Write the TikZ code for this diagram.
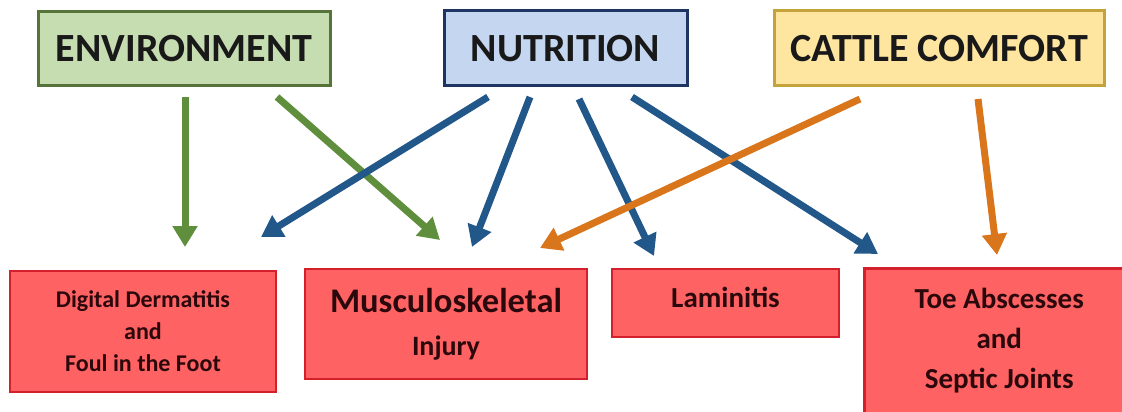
\documentclass[tikz,border=0pt]{standalone}
\usepackage{fontspec}
\setmainfont{Carlito}
\usetikzlibrary{arrows.meta}
\definecolor{envfill}{HTML}{C6DDB2}
\definecolor{envline}{HTML}{56733A}
\definecolor{nutfill}{HTML}{C5D7F0}
\definecolor{nutline}{HTML}{1F3561}
\definecolor{ccfill}{HTML}{FFE6A0}
\definecolor{ccline}{HTML}{C4A43A}
\definecolor{redfill}{HTML}{FF6262}
\definecolor{redline}{HTML}{D3202C}
\definecolor{redtext}{HTML}{2A080C}
\definecolor{garrow}{HTML}{5F8E3C}
\definecolor{barrow}{HTML}{22578A}
\definecolor{oarrow}{HTML}{D9761C}
\tikzset{
  topbox/.style={draw, line width=3pt, inner sep=0pt, align=center,
    font=\fontsize{40}{44}\selectfont\bfseries, text=black!90},
  disbox/.style={draw=redline, fill=redfill, line width=2.5pt, inner sep=0pt,
    align=center, text=redtext},
  conn/.style={line width=7pt, -{Triangle[length=21pt,width=24pt]}},
}
\begin{document}
\begin{tikzpicture}[x=1pt,y=-1pt]
\clip (0,0) rectangle (1122,412);
\useasboundingbox (0,0) rectangle (1122,412);
\fill[white] (0,0) rectangle (1122,412);

% top boxes
\node[topbox, draw=envline, fill=envfill, minimum width=292pt, minimum height=74pt] (env) at (184,49) {ENVIRONMENT};
\node[topbox, draw=nutline, fill=nutfill, minimum width=243pt, minimum height=75pt] (nut) at (565.5,48.5) {NUTRITION};
\node[topbox, draw=ccline, fill=ccfill, minimum width=330pt, minimum height=75pt] (cc) at (939,48.5) {CATTLE COMFORT};

% bottom boxes
\node[disbox, minimum width=266pt, minimum height=121pt,
  font=\fontsize{24}{32}\selectfont\bfseries] (dd) at (143,331.5)
  {Digital Dermatitis\\and\\Foul in the Foot};
\node[disbox, minimum width=282pt, minimum height=110pt,
  font=\fontsize{28}{30}\selectfont\bfseries] (mus) at (446,324)
  {{\fontsize{34.5}{36}\selectfont Musculoskeletal}\\[13pt]Injury};
\node[disbox, minimum width=227pt, minimum height=68pt, text depth=12pt,
  font=\fontsize{29}{30}\selectfont\bfseries] (lam) at (725.5,303) {Laminitis};
\node[disbox, minimum width=270pt, inner ysep=20pt, text depth=60pt, anchor=north west,
  font=\fontsize{29}{40}\selectfont\bfseries] (toe) at (863,267)
  {Toe Abscesses\\and\\Septic Joints};

% arrow end points
\coordinate (g1s) at (185,97);  \coordinate (g1e) at (185,247);
\coordinate (g2s) at (277,97);  \coordinate (g2e) at (440,240);
\coordinate (b1s) at (488,97);  \coordinate (b1e) at (261,237);
\coordinate (b2s) at (530,97);  \coordinate (b2e) at (472,247);
\coordinate (b3s) at (579,99);  \coordinate (b3e) at (654,256);
\coordinate (b4s) at (632,97);  \coordinate (b4e) at (878,254);
\coordinate (o1s) at (860,99);  \coordinate (o1e) at (540,248);
\coordinate (o2s) at (978,99);  \coordinate (o2e) at (997,255);

\draw[conn, garrow] (g1s) -- (g1e);
\draw[conn, garrow] (g2s) -- (g2e);
\draw[conn, barrow] (b1s) -- (b1e);
\draw[conn, barrow] (b2s) -- (b2e);
\draw[conn, barrow] (b3s) -- (b3e);
\draw[conn, barrow] (b4s) -- (b4e);
\draw[conn, oarrow] (o1s) -- (o1e);
\draw[conn, oarrow] (o2s) -- (o2e);
\end{tikzpicture}
\end{document}
